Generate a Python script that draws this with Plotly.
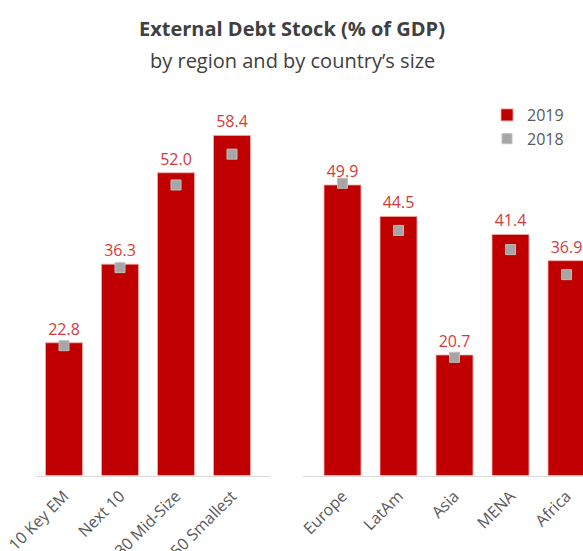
import plotly.graph_objects as go

# Country-size groups
size_groups = ["10 Key EM", "Next 10", "30 Mid-Size", "50 Smallest"]
size_2019 = [22.8, 36.3, 52.0, 58.4]
size_2018 = [22.3, 35.7, 49.9, 55.2]

# Regions
regions = ["Europe", "LatAm", "Asia", "MENA", "Africa"]
region_2019 = [49.9, 44.5, 20.7, 41.4, 36.9]
region_2018 = [50.2, 42.1, 20.3, 38.8, 34.5]

W, H = 583, 551
BAR_RED = "#C00000"
LABEL_RED = "#D63A3A"
MARK_GRAY = "#A6A6A6"
TEXT_GRAY = "#595959"
FONT = "Open Sans"

fig = go.Figure()


def add_panel(cats, v19, v18, xa, ya, legend):
    fig.add_trace(go.Bar(
        x=cats, y=v19, name="2019", xaxis=xa, yaxis=ya,
        marker=dict(color=BAR_RED, line=dict(color="rgba(240,170,170,0.8)", width=1)),
        width=0.66,
        text=[f"{v:.1f}" for v in v19], textposition="outside",
        textfont=dict(color=LABEL_RED, size=16, family=FONT),
        cliponaxis=False, showlegend=legend, legendrank=1,
        hoverinfo="x+y",
    ))
    fig.add_trace(go.Scatter(
        x=cats, y=v18, name="2018", xaxis=xa, yaxis=ya, mode="markers",
        marker=dict(symbol="square", size=10, color=MARK_GRAY,
                    line=dict(color="#BFBFBF", width=1)),
        showlegend=legend, legendrank=2, cliponaxis=False,
    ))


add_panel(size_groups, size_2019, size_2018, "x", "y", True)
add_panel(regions, region_2019, region_2018, "x2", "y2", False)

# Plot area geometry (pixels)
base_px = 475.5
px_per_unit = 340 / 58.4
y_top_val = 70
y_dom = [(H - base_px) / H, (H - base_px + y_top_val * px_per_unit) / H]
pitch = 56

left_x0, left_x1 = 36, 271
right_x0, right_x1 = 303, 583
first_right_center = 342.5

xaxis_common = dict(
    showline=True, linecolor="#D9D9D9", linewidth=1,
    showgrid=False, zeroline=False, ticks="", automargin=False,
    tickangle=-45, tickfont=dict(size=16, color=TEXT_GRAY, family=FONT),
    ticklabelstandoff=4, fixedrange=True,
)
yaxis_common = dict(range=[0, y_top_val], domain=y_dom, visible=False,
                    showgrid=False, zeroline=False, fixedrange=True)

fig.update_layout(
    width=W, height=H,
    margin=dict(l=0, r=0, t=0, b=0),
    paper_bgcolor="white", plot_bgcolor="white",
    font=dict(family=FONT, color=TEXT_GRAY),
    xaxis=dict(**xaxis_common, domain=[left_x0 / W, left_x1 / W],
               range=[-0.5, -0.5 + (left_x1 - left_x0) / pitch]),
    xaxis2=dict(**xaxis_common, domain=[right_x0 / W, right_x1 / W],
                range=[-(first_right_center - right_x0) / pitch,
                       -(first_right_center - right_x0) / pitch + (right_x1 - right_x0) / pitch],
                anchor="y2"),
    yaxis=dict(**yaxis_common, anchor="x"),
    yaxis2=dict(**yaxis_common, anchor="x2"),
    legend=dict(x=487 / W, y=1 - 98 / H, xanchor="left", yanchor="top",
                font=dict(size=16, color=TEXT_GRAY, family=FONT),
                bgcolor="rgba(0,0,0,0)", itemwidth=30, tracegroupgap=0),
    showlegend=True,
    annotations=[
        dict(text="<b>External Debt Stock (% of GDP)</b>", x=292 / W, y=1 - 29 / H,
             xref="paper", yref="paper", showarrow=False, xanchor="center", yanchor="middle",
             font=dict(size=20, color="#404040", family=FONT)),
        dict(text="by region and by country’s size", x=292 / W, y=1 - 60 / H,
             xref="paper", yref="paper", showarrow=False, xanchor="center", yanchor="middle",
             font=dict(size=20, color="#404040", family=FONT)),
    ],
)

fig.write_html("out.html")
